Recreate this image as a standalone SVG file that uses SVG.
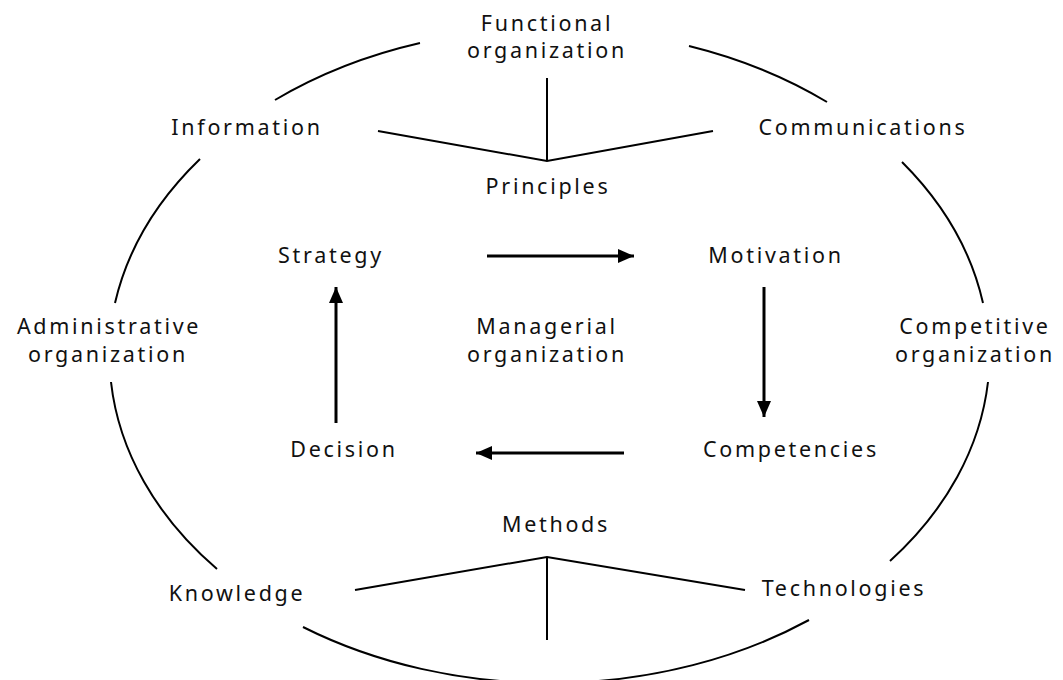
<svg xmlns="http://www.w3.org/2000/svg" width="1063" height="680" viewBox="0 0 1063 680">
<defs>
<style>
text{font-family:"Noto Sans","Liberation Sans",sans-serif;font-size:21.5px;letter-spacing:2.7px;fill:#111;text-anchor:middle}
.c{fill:none;stroke:#000;stroke-width:2}
.l{fill:none;stroke:#000;stroke-width:2}
.a{fill:none;stroke:#000;stroke-width:3}
</style>
<marker id="ah2" viewBox="0 0 16 14" refX="16" refY="7" markerWidth="16" markerHeight="14" markerUnits="userSpaceOnUse" orient="auto">
<path d="M0,0 L16,7 L0,14 z" fill="#000"/>
</marker>
</defs>
<rect width="1063" height="680" fill="#fff"/>
<g id="connectors">
<path class="c" d="M115,303 A440 327 0 0 1 200,159"/>
<path class="c" d="M275,100 A440 327 0 0 1 420,43"/>
<path class="c" d="M689,46 A440 327 0 0 1 827,102"/>
<path class="c" d="M902,162 A440 327 0 0 1 983,303"/>
<path class="c" d="M988,382 A440 327 0 0 1 890,561"/>
<path class="c" d="M809,620 A440 327 0 0 1 303,627"/>
<path class="c" d="M217,569 A440 327 0 0 1 111,382"/>
<path class="l" d="M547,78 V161 M378,131 L547,161 L713,131"/>
<path class="l" d="M547,640 V557 M355,590 L547,557 L745,590"/>
<line class="a" x1="487" y1="256" x2="634" y2="256" marker-end="url(#ah2)"/>
<line class="a" x1="764" y1="287" x2="764" y2="417" marker-end="url(#ah2)"/>
<line class="a" x1="624" y1="453" x2="476" y2="453" marker-end="url(#ah2)"/>
<line class="a" x1="336" y1="423" x2="336" y2="287" marker-end="url(#ah2)"/>
</g>
<g id="functional"><text x="547" y="31">Functional</text><text x="547" y="58">organization</text></g>
<g id="information"><text x="247" y="135">Information</text></g>
<g id="communications"><text x="863" y="135">Communications</text></g>
<g id="principles"><text x="548" y="194">Principles</text></g>
<g id="strategy"><text x="331" y="263">Strategy</text></g>
<g id="motivation"><text x="776" y="263">Motivation</text></g>
<g id="managerial"><text x="547" y="334">Managerial</text><text x="547" y="362">organization</text></g>
<g id="administrative"><text x="109" y="334">Administrative</text><text x="108" y="362">organization</text></g>
<g id="competitive"><text x="975" y="334">Competitive</text><text x="975" y="362">organization</text></g>
<g id="decision"><text x="344" y="457">Decision</text></g>
<g id="competencies"><text x="791" y="457">Competencies</text></g>
<g id="methods"><text x="556" y="532">Methods</text></g>
<g id="knowledge"><text x="237" y="601">Knowledge</text></g>
<g id="technologies"><text x="844" y="596">Technologies</text></g>
</svg>
